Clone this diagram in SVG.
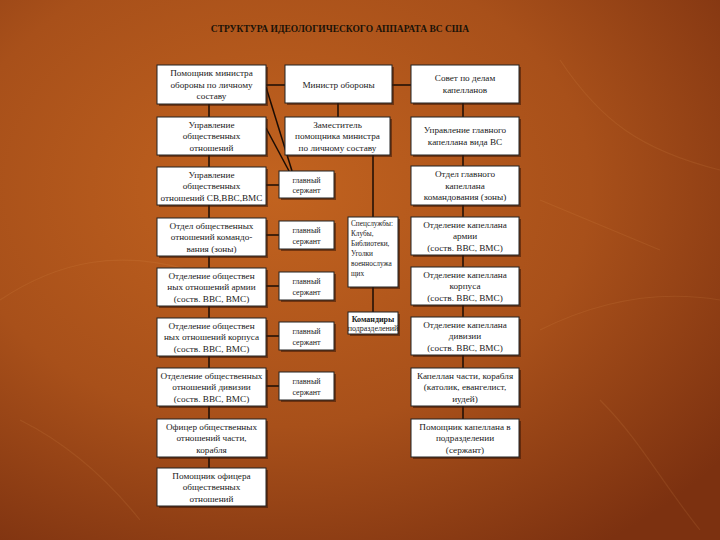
<svg xmlns="http://www.w3.org/2000/svg" width="720" height="540" viewBox="0 0 720 540">
<defs>
<radialGradient id="bg" cx="0.38" cy="0.35" r="0.8">
<stop offset="0" stop-color="#C2631F"/>
<stop offset="0.55" stop-color="#A8501A"/>
<stop offset="1" stop-color="#7C3110"/>
</radialGradient>
<style>
.b{fill:#fff;stroke:#222;stroke-width:1}
.s{fill:#3a1606;opacity:0.55}
.t{font-family:"Liberation Serif","Times New Roman",serif;font-size:9.2px;fill:#1a1a1a;text-anchor:middle}
.sm{font-family:"Liberation Serif","Times New Roman",serif;font-size:8px;fill:#1a1a1a;text-anchor:middle}
.l{font-family:"Liberation Serif","Times New Roman",serif;font-size:7.3px;fill:#1a1a1a}
.c{stroke:#1a0c04;stroke-width:1.5;fill:none}
.leaf{fill:none;stroke:#e8a060;stroke-width:1.2;opacity:0.13}
</style>
</defs>
<rect width="720" height="540" fill="url(#bg)"/>
<g id="bg-leaves">
<path class="leaf" d="M0,300 C60,260 120,250 190,270"/>
<path class="leaf" d="M560,60 C600,120 640,150 720,170"/>
<path class="leaf" d="M540,330 C600,300 660,290 720,300"/>
<path class="leaf" d="M600,400 C640,440 660,480 700,530"/>
<path class="leaf" d="M20,420 C60,440 100,470 140,520"/>
<path class="leaf" d="M540,200 L660,250"/>
</g>
<text x="340" y="32" font-family="'Liberation Serif','Times New Roman',serif" font-size="9.5" font-weight="bold" fill="#1a1208" text-anchor="middle">СТРУКТУРА ИДЕОЛОГИЧЕСКОГО АППАРАТА ВС США</text>

<g id="connectors">
<line class="c" x1="266" y1="85" x2="285" y2="85"/>
<line class="c" x1="392" y1="85" x2="411" y2="85"/>
<line class="c" x1="338" y1="103" x2="338" y2="117"/>
<line class="c" x1="373" y1="155" x2="373" y2="217"/>
<line class="c" x1="373" y1="287" x2="373" y2="312"/>
<line class="c" x1="209" y1="104" x2="209" y2="468"/>
<line class="c" x1="463" y1="103" x2="463" y2="419"/>
<line class="c" x1="266" y1="185" x2="279" y2="185"/>
<line class="c" x1="266" y1="235" x2="279" y2="235"/>
<line class="c" x1="266" y1="286" x2="279" y2="286"/>
<line class="c" x1="266" y1="336" x2="279" y2="336"/>
<line class="c" x1="266" y1="386" x2="279" y2="386"/>
<line class="c" x1="266" y1="87" x2="292" y2="171"/>
<line class="c" x1="266" y1="128" x2="289" y2="171"/>
</g>

<g id="n-pom-min"><rect class="s" x="159" y="67" width="109" height="39"/><rect class="b" x="157" y="65" width="109" height="39"/>
<text class="t" x="211.5" y="76">Помощник министра</text><text class="t" x="211.5" y="87.5">обороны по личному</text><text class="t" x="211.5" y="99">составу</text></g>
<g id="n-upr-oo"><rect class="s" x="159" y="119" width="109" height="38"/><rect class="b" x="157" y="117" width="109" height="38"/>
<text class="t" x="211.5" y="127.5">Управление</text><text class="t" x="211.5" y="139">общественных</text><text class="t" x="211.5" y="150.5">отношений</text></g>
<g id="n-upr-sv"><rect class="s" x="159" y="169" width="109" height="38"/><rect class="b" x="157" y="167" width="109" height="38"/>
<text class="t" x="211.5" y="177.5">Управление</text><text class="t" x="211.5" y="189">общественных</text><text class="t" x="211.5" y="200.5">отношений СВ,ВВС,ВМС</text></g>
<g id="n-otdel-oo"><rect class="s" x="159" y="220" width="109" height="38"/><rect class="b" x="157" y="218" width="109" height="38"/>
<text class="t" x="211.5" y="228.5">Отдел общественных</text><text class="t" x="211.5" y="240">отношений командо-</text><text class="t" x="211.5" y="251.5">вания (зоны)</text></g>
<g id="n-oo-army"><rect class="s" x="159" y="270" width="109" height="38"/><rect class="b" x="157" y="268" width="109" height="38"/>
<text class="t" x="211.5" y="278.5">Отделение обществен</text><text class="t" x="211.5" y="290">ных отношений армии</text><text class="t" x="211.5" y="301.5">(соств. ВВС, ВМС)</text></g>
<g id="n-oo-korp"><rect class="s" x="159" y="320" width="109" height="38"/><rect class="b" x="157" y="318" width="109" height="38"/>
<text class="t" x="211.5" y="328.5">Отделение обществен</text><text class="t" x="211.5" y="340">ных отношений корпуса</text><text class="t" x="211.5" y="351.5">(соств. ВВС, ВМС)</text></g>
<g id="n-oo-div"><rect class="s" x="159" y="370" width="109" height="38"/><rect class="b" x="157" y="368" width="109" height="38"/>
<text class="t" x="211.5" y="378.5" font-size="8.8">Отделение общественных</text><text class="t" x="211.5" y="390">отношений дивизии</text><text class="t" x="211.5" y="401.5">(соств. ВВС, ВМС)</text></g>
<g id="n-oficer"><rect class="s" x="159" y="421" width="109" height="38"/><rect class="b" x="157" y="419" width="109" height="38"/>
<text class="t" x="211.5" y="429.5">Офицер общественных</text><text class="t" x="211.5" y="441">отношений части,</text><text class="t" x="211.5" y="452.5">корабля</text></g>
<g id="n-pom-of"><rect class="s" x="159" y="470" width="109" height="38"/><rect class="b" x="157" y="468" width="109" height="38"/>
<text class="t" x="211.5" y="478.5">Помощник офицера</text><text class="t" x="211.5" y="490">общественных</text><text class="t" x="211.5" y="501.5">отношений</text></g>

<g id="n-ministr"><rect class="s" x="287" y="67" width="107" height="38"/><rect class="b" x="285" y="65" width="107" height="38"/>
<text class="t" x="338.5" y="87.5">Министр обороны</text></g>
<g id="n-zam"><rect class="s" x="287" y="119" width="105" height="38"/><rect class="b" x="285" y="117" width="105" height="38"/>
<text class="t" x="337.5" y="127.5">Заместитель</text><text class="t" x="337.5" y="139">помощника министра</text><text class="t" x="337.5" y="150.5">по личному составу</text></g>

<g id="n-serg1"><rect class="s" x="281" y="173" width="55" height="27"/><rect class="b" x="279" y="171" width="55" height="27"/>
<text class="sm" x="306.5" y="182.5">главный</text><text class="sm" x="306.5" y="193">сержант</text></g>
<g id="n-serg2"><rect class="s" x="281" y="223" width="55" height="28"/><rect class="b" x="279" y="221" width="55" height="28"/>
<text class="sm" x="306.5" y="233">главный</text><text class="sm" x="306.5" y="243.5">сержант</text></g>
<g id="n-serg3"><rect class="s" x="281" y="274" width="55" height="28"/><rect class="b" x="279" y="272" width="55" height="28"/>
<text class="sm" x="306.5" y="284">главный</text><text class="sm" x="306.5" y="294.5">сержант</text></g>
<g id="n-serg4"><rect class="s" x="281" y="324" width="55" height="28"/><rect class="b" x="279" y="322" width="55" height="28"/>
<text class="sm" x="306.5" y="334">главный</text><text class="sm" x="306.5" y="344.5">сержант</text></g>
<g id="n-serg5"><rect class="s" x="281" y="374" width="55" height="28"/><rect class="b" x="279" y="372" width="55" height="28"/>
<text class="sm" x="306.5" y="384">главный</text><text class="sm" x="306.5" y="394.5">сержант</text></g>

<g id="n-spec"><rect class="s" x="350" y="219" width="50" height="70"/><rect class="b" x="348" y="217" width="50" height="70"/>
<text class="l" x="351" y="226">Спецслужбы:</text><text class="l" x="351" y="236">Клубы,</text><text class="l" x="351" y="246">Библиотеки,</text><text class="l" x="351" y="256">Уголки</text><text class="l" x="351" y="266">военнослужа</text><text class="l" x="351" y="276">щих</text></g>
<g id="n-kom"><rect class="s" x="350" y="314" width="50" height="22"/><rect class="b" x="348" y="312" width="50" height="22"/>
<text class="sm" x="373" y="321.5" font-size="6.5" font-weight="bold">Командиры</text><text class="sm" x="373" y="330.5" font-size="6.5">подразделений</text></g>

<g id="n-sovet"><rect class="s" x="413" y="67" width="108" height="38"/><rect class="b" x="411" y="65" width="108" height="38"/>
<text class="t" x="465" y="81">Совет по делам</text><text class="t" x="465" y="93">капелланов</text></g>
<g id="n-upr-kap"><rect class="s" x="413" y="119" width="108" height="38"/><rect class="b" x="411" y="117" width="108" height="38"/>
<text class="t" x="465" y="133">Управление главного</text><text class="t" x="465" y="145">капеллана вида ВС</text></g>
<g id="n-otdel-kap"><rect class="s" x="413" y="168" width="108" height="39"/><rect class="b" x="411" y="166" width="108" height="39"/>
<text class="t" x="465" y="177">Отдел главного</text><text class="t" x="465" y="188.5">капеллана</text><text class="t" x="465" y="200">командования (зоны)</text></g>
<g id="n-kap-army"><rect class="s" x="413" y="219" width="108" height="38"/><rect class="b" x="411" y="217" width="108" height="38"/>
<text class="t" x="465" y="227.5">Отделение капеллана</text><text class="t" x="465" y="239">армии</text><text class="t" x="465" y="250.5">(соств. ВВС, ВМС)</text></g>
<g id="n-kap-korp"><rect class="s" x="413" y="269" width="108" height="38"/><rect class="b" x="411" y="267" width="108" height="38"/>
<text class="t" x="465" y="277.5">Отделение капеллана</text><text class="t" x="465" y="289">корпуса</text><text class="t" x="465" y="300.5">(соств. ВВС, ВМС)</text></g>
<g id="n-kap-div"><rect class="s" x="413" y="319" width="108" height="38"/><rect class="b" x="411" y="317" width="108" height="38"/>
<text class="t" x="465" y="327.5">Отделение капеллана</text><text class="t" x="465" y="339">дивизии</text><text class="t" x="465" y="350.5">(соств. ВВС, ВМС)</text></g>
<g id="n-kap-chast"><rect class="s" x="413" y="370" width="108" height="38"/><rect class="b" x="411" y="368" width="108" height="38"/>
<text class="t" x="465" y="378.5">Капеллан части, корабля</text><text class="t" x="465" y="390">(католик, евангелист,</text><text class="t" x="465" y="401.5">иудей)</text></g>
<g id="n-pom-kap"><rect class="s" x="413" y="421" width="108" height="38"/><rect class="b" x="411" y="419" width="108" height="38"/>
<text class="t" x="465" y="429.5">Помощник капеллана в</text><text class="t" x="465" y="441">подразделении</text><text class="t" x="465" y="452.5">(сержант)</text></g>
</svg>
